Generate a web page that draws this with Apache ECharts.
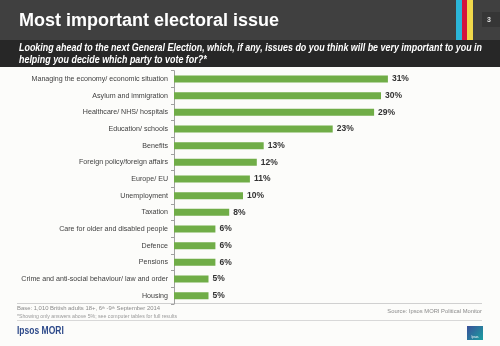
<!DOCTYPE html>
<html><head><meta charset="utf-8">
<script src="https://cdn.jsdelivr.net/npm/echarts@6/dist/echarts.min.js"></script>
<style>html,body{margin:0;padding:0;background:#fcfcfa;}#c{width:500px;height:346px;}</style>
</head><body><div id="c"></div>
<script>
var categories = ["Managing the economy/ economic situation","Asylum and immigration","Healthcare/ NHS/ hospitals","Education/ schools","Benefits","Foreign policy/foreign affairs","Europe/ EU","Unemployment","Taxation","Care for older and disabled people","Defence","Pensions","Crime and anti-social behaviour/ law and order","Housing"];
var values = [31,30,29,23,13,12,11,10,8,6,6,6,5,5];
var titleText = "Most important electoral issue";
var questionLines = ["Looking ahead to the next General Election, which, if any, issues do you think will be very important to you in","helping you decide which party to vote for?*"];

var F = '"Liberation Sans", Arial, sans-serif';
// horizontal squeeze so the question fits the band like the reference
var cv = document.createElement('canvas').getContext('2d');
cv.font = 'italic bold 10.5px ' + F;
var qScale = 463 / cv.measureText(questionLines[0]).width;

var chart = echarts.init(document.getElementById('c'), null, {renderer:'canvas'});
chart.setOption({
  backgroundColor: '#fcfcfa',
  animation: false,
  grid: {left: 174, top: 70.7, right: 50, height: 233.3, containLabel: false},
  xAxis: {type:'value', min:0, max:40, show:false},
  yAxis: {
    type:'category', data: categories, inverse:true,
    axisLine:{show:true, lineStyle:{color:'#a0a0a0', width:1}},
    axisTick:{show:true, length:3, lineStyle:{color:'#a0a0a0'}},
    axisLabel:{color:'#404040', fontSize:7.1, fontFamily:F, margin:6}
  },
  series:[{
    type:'bar', data: values, barWidth:7,
    itemStyle:{color:'#70ad47'},
    label:{show:true, position:'right', distance:4, formatter:'{c}%', color:'#333', fontSize:8.5, fontWeight:'bold', fontFamily:F}
  }],
  graphic:[
    {type:'rect', shape:{x:0,y:0,width:500,height:40}, style:{fill:'#404040'}, silent:true},
    {type:'rect', shape:{x:0,y:40,width:500,height:27}, style:{fill:'#272727'}, silent:true},
    {type:'rect', shape:{x:456,y:0,width:6,height:40}, style:{fill:'#2bb5d8'}},
    {type:'rect', shape:{x:462,y:0,width:5,height:40}, style:{fill:'#d4143c'}},
    {type:'rect', shape:{x:467,y:0,width:6,height:40}, style:{fill:'#f0d84a'}},
    {type:'rect', shape:{x:482,y:12,width:18,height:15}, style:{fill:'#363636'}},
    {type:'text', x:487, y:20, style:{text:'3', fill:'#e0e0e0', font:'bold 7px '+F, verticalAlign:'middle'}},
    {type:'text', x:19, y:21, style:{text:titleText, fill:'#ffffff', font:'bold 18px '+F, verticalAlign:'middle'}},
    {type:'text', x:19, y:48.5, scaleX:qScale, style:{text:questionLines[0], fill:'#ffffff', font:'italic bold 10.5px '+F, verticalAlign:'middle'}},
    {type:'text', x:19, y:60.5, scaleX:qScale, style:{text:questionLines[1], fill:'#ffffff', font:'italic bold 10.5px '+F, verticalAlign:'middle'}},
    {type:'line', shape:{x1:17,y1:303.5,x2:482,y2:303.5}, style:{stroke:'#d0d0d0', lineWidth:1}},
    {type:'line', shape:{x1:17,y1:320.5,x2:482,y2:320.5}, style:{stroke:'#d8d8d8', lineWidth:1}},
    {type:'text', x:17, y:308.5, style:{text:'Base: 1,010 British adults 18+, 6{s|th} -9{s|th} September 2014', fill:'#8a8a8a', font:'5.9px '+F, verticalAlign:'middle', rich:{s:{fontSize:3.6, verticalAlign:'top', fill:'#8a8a8a', fontFamily:F}}}},
    {type:'text', x:17, y:316.5, style:{text:'*Showing only answers above 5%; see computer tables for full results', fill:'#9a9a9a', font:'5.2px '+F, verticalAlign:'middle'}},
    {type:'text', x:482, y:311.5, style:{text:'Source: Ipsos MORI Political Monitor', fill:'#8a8a8a', font:'5.8px '+F, verticalAlign:'middle', align:'right'}},
    {type:'text', x:17, y:331.5, scaleX:0.85, style:{text:'Ipsos MORI', fill:'#2e4a8a', font:'bold 10px '+F, verticalAlign:'middle'}},
    {type:'rect', shape:{x:467,y:326,width:16,height:14}, style:{fill:new echarts.graphic.LinearGradient(0,0,1,1,[{offset:0,color:'#3a4f9a'},{offset:1,color:'#1aa0a0'}])}},
    {type:'text', x:475, y:337, style:{text:'Ipsos', fill:'#ffffff', font:'3px '+F, align:'center', verticalAlign:'middle'}}
  ]
});
</script></body></html>
